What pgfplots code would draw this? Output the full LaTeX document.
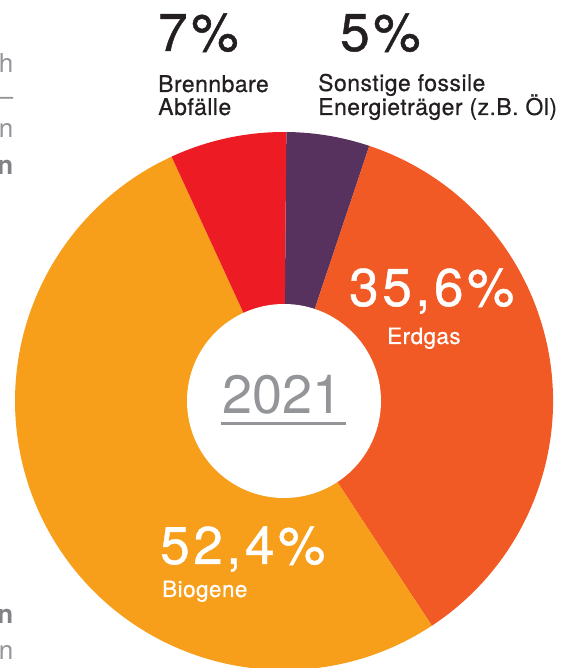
\documentclass[border=0pt]{standalone}
\usepackage{pgfplots}
\usepackage{pgfplotstable}
\pgfplotsset{compat=1.18}
\usepackage{fontspec}
\setmainfont{TeX Gyre Heros}
\newfontfamily\numfont[LetterSpace=7,FakeBold=0.8]{TeX Gyre Heros}
\newfontfamily\labfont[LetterSpace=2,FakeBold=0.5]{TeX Gyre Heros}
\definecolor{sc0}{HTML}{58325F}
\definecolor{sc1}{HTML}{F15A24}
\definecolor{sc2}{HTML}{F79E1B}
\definecolor{sc3}{HTML}{ED1C24}
\definecolor{cText}{HTML}{231F20}
\definecolor{cGray}{HTML}{939598}
\definecolor{cGrayB}{HTML}{808285}

\pgfplotstableread[col sep=comma]{
name,value
Sonstige,5
Erdgas,35.6
Biogene,52.4
Brennbare,7
}\slices

\begin{document}%
\begin{tikzpicture}
\def\acc{89.5}
\pgfplotsforeachungrouped \i in {0,...,3}{%
  \pgfplotstablegetelem{\i}{value}\of\slices%
  \pgfmathsetmacro\spanang{\pgfplotsretval*3.6}%
  \pgfmathsetmacro\newacc{\acc-\spanang}%
  \expandafter\xdef\csname sa\i\endcsname{\acc}%
  \expandafter\xdef\csname ea\i\endcsname{\newacc}%
  \xdef\acc{\newacc}%
}
\begin{axis}[x=1pt, y=1pt, xmin=0, xmax=563, ymin=0, ymax=668,
  hide axis, clip=false, scale only axis]
\pgfplotsinvokeforeach{0,...,3}{
  \fill[fill=sc#1] (axis cs:284,267) -- ++(\csname sa#1\endcsname:269pt)
     arc[start angle=\csname sa#1\endcsname, end angle=\csname ea#1\endcsname, radius=269pt] -- cycle;
}
\fill[white] (axis cs:284,267) circle[radius=97pt];
\coordinate (ll) at (axis cs:0,0);
\coordinate (ur) at (axis cs:563,668);
% big numbers
\node[anchor=base west, inner sep=0, text=cText, font=\numfont\fontsize{53}{53}\selectfont] at (axis cs:158,617) {7\%};
\node[anchor=base west, inner sep=0, text=cText, font=\numfont\fontsize{53}{53}\selectfont] at (axis cs:340,617) {5\%};
\node[anchor=base west, inner sep=0, text=white, font=\numfont\fontsize{53}{53}\selectfont] at (axis cs:349,362) {35,6\%};
\node[anchor=base west, inner sep=0, text=white, font=\numfont\fontsize{53}{53}\selectfont] at (axis cs:160,104) {52,4\%};
% labels
\node[anchor=base west, inner sep=0, text=cText, font=\labfont\fontsize{23}{23}\selectfont] at (axis cs:158,576) {Brennbare};
\node[anchor=base west, inner sep=0, text=cText, font=\labfont\fontsize{23}{23}\selectfont] at (axis cs:158,553) {Abfälle};
\node[anchor=base west, inner sep=0, text=cText, font=\labfont\fontsize{23}{23}\selectfont] at (axis cs:318,577) {Sonstige fossile};
\node[anchor=base west, inner sep=0, text=cText, font=\labfont\fontsize{23}{23}\selectfont] at (axis cs:318,553) {Energieträger (z.B. Öl)};
\node[anchor=base west, inner sep=0, text=white, font=\labfont\fontsize{22.5}{22.5}\selectfont] at (axis cs:387,324) {Erdgas};
\node[anchor=base west, inner sep=0, text=white, font=\labfont\fontsize{22.5}{22.5}\selectfont] at (axis cs:162,71) {Biogene};
% center year
\node[anchor=base west, inner sep=0, text=cGray, font=\fontsize{54}{54}\selectfont] at (axis cs:222,254) {2021};
\draw[cGray, line width=3pt] (axis cs:221,244.5) -- (axis cs:346,244.5);
% cut-off text fragments at left edge
\node[anchor=base east, inner sep=0, text=cGray, font=\fontsize{26}{26}\selectfont] at (axis cs:13.5,595) {h};
\node[anchor=base east, inner sep=0, text=cGray, font=\fontsize{26}{26}\selectfont] at (axis cs:13.5,562) {–};
\node[anchor=base east, inner sep=0, text=cGray, font=\fontsize{26}{26}\selectfont] at (axis cs:13.5,530) {n};
\node[anchor=base east, inner sep=0, text=cGrayB, font=\bfseries\fontsize{26}{26}\selectfont] at (axis cs:13.5,493) {n};
\node[anchor=base east, inner sep=0, text=cGrayB, font=\bfseries\fontsize{26}{26}\selectfont] at (axis cs:13.5,44) {n};
\node[anchor=base east, inner sep=0, text=cGray, font=\fontsize{26}{26}\selectfont] at (axis cs:13.5,9) {n};
\end{axis}
\pgfresetboundingbox
\path (ll) rectangle (ur);
\end{tikzpicture}%
\end{document}
